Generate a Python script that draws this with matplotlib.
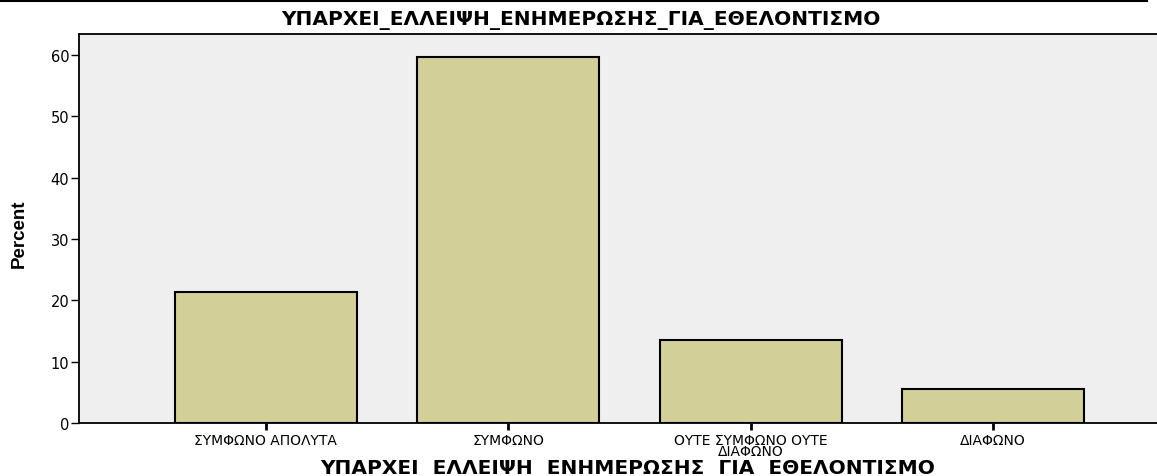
import matplotlib
matplotlib.use('Agg')
import matplotlib.pyplot as plt
from matplotlib.lines import Line2D
import numpy as np

categories = ['ΣΥΜΦΩΝΟ ΑΠΟΛΥΤΑ', 'ΣΥΜΦΩΝΟ', 'ΟΥΤΕ ΣΥΜΦΩΝΟ ΟΥΤΕ\nΔΙΑΦΩΝΟ', 'ΔΙΑΦΩΝΟ']
percent = [21.3, 59.6, 13.5, 5.6]
yticks = [0, 10, 20, 30, 40, 50, 60]

plt.rcParams['font.family'] = ['DejaVu Sans']

fig = plt.figure(figsize=(11.57, 4.77), dpi=100)
ax = fig.add_axes([79/1157, 1 - 424/477, 1 - 79/1157, (424 - 35)/477])
ax.set_facecolor('#efefef')

x = np.arange(len(categories))
ax.bar(x, percent, width=0.75, color='#d3cf98', edgecolor='black', linewidth=1.5, zorder=2)

ax.set_xlim(-0.771, 3.676)
ax.set_ylim(0, 63.4)
ax.set_yticks(yticks)
ax.set_xticks(x)
ax.set_xticklabels(categories, fontsize=10, linespacing=0.75)
ax.tick_params(axis='y', direction='out', length=6, width=1, labelsize=10.5, pad=1)
ax.tick_params(axis='x', direction='out', length=5, width=2, pad=2)
for s in ['left', 'bottom', 'top']:
    ax.spines[s].set_linewidth(1.3)
ax.spines['right'].set_visible(False)

# y label (condensed bold in the original)
ax.set_ylabel('Percent', fontsize=13.5, fontweight='bold',
              family=['Liberation Sans', 'DejaVu Sans'])
ax.yaxis.label.set_va('center')
ax.yaxis.set_label_coords(-0.055, 0.49)
ax.set_xlabel('ΥΠΑΡΧΕΙ  ΕΛΛΕΙΨΗ  ΕΝΗΜΕΡΩΣΗΣ  ΓΙΑ  ΕΘΕΛΟΝΤΙΣΜΟ', fontsize=14.5,
              fontweight='bold')
ax.xaxis.label.set_va('center')
ax.xaxis.set_label_coords(0.509, -0.115)
fig.text(0.502, 1 - 20/477, 'ΥΠΑΡΧΕΙ_ΕΛΛΕΙΨΗ_ΕΝΗΜΕΡΩΣΗΣ_ΓΙΑ_ΕΘΕΛΟΝΤΙΣΜΟ',
         ha='center', va='center', fontsize=14.5, fontweight='bold')

# thin rule along the very top
fig.add_artist(Line2D([0, 1147/1157], [1 - 1.5/477, 1 - 1.5/477], color='black', linewidth=1.5))

plt.savefig('out.png', dpi=100)
